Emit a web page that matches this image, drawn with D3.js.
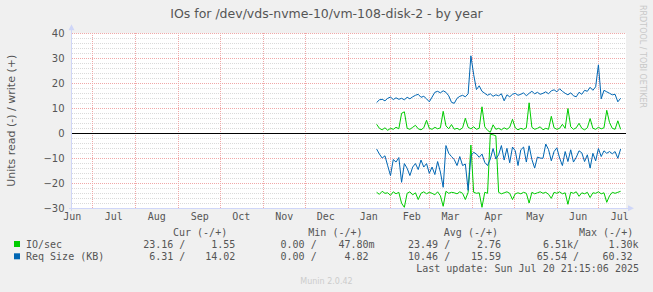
<!DOCTYPE html>
<html>
<head>
	<meta http-equiv="Content-Type" content="text/html; charset=utf-8">
	<title>IOs by year</title>
	<script src="https://d3js.org/d3.v7.min.js"></script>
	<style>
		body { margin: 0; background: #F0F0F0; }
		text { font-family: 'DejaVu Sans', sans-serif; fill: #555; }
		.mono { font-family: 'DejaVu Sans Mono', monospace; font-size: 10px; }
		.grid-minor { stroke: #dadada; stroke-dasharray: 1,1; shape-rendering: crispEdges; }
		.grid-major { stroke: #f0a8a8; stroke-dasharray: 1,1; shape-rendering: crispEdges; }
		.series { fill: none; stroke-width: 1; }
	</style>
</head>
<body>
<script>
// time span of the graph (munin "year" = last 400 days)
var graphStart = new Date(Date.UTC(2024, 5, 15, 21, 15));
var graphEnd = new Date(Date.UTC(2025, 6, 20, 21, 15));

// samples every 2 days starting here
var dataStart = new Date(Date.UTC(2025, 0, 22));
var stepDays = 2;

// IO/sec : read (-) and write (+)
var ioRead = [-23.6,-24.4,-23.2,-24.0,-23.8,-24.8,-23.4,-24.2,-23.6,-28.0,
	-29.6,-24.0,-23.4,-24.6,-23.8,-26.5,-24.0,-23.4,-24.2,-23.6,
	-24.0,-24.6,-23.4,-25.0,-29.2,-23.2,-24.0,-23.6,-23.8,-24.2,
	-23.4,-24.0,-26.5,-23.6,-4.7,-23.6,-24.0,-23.8,-29.6,-23.6,
	-24.0,-0.4,-0.6,-1.0,-23.6,-24.2,-23.8,-23.4,-24.0,-26.5,
	-24.2,-23.8,-24.2,-23.6,-24.0,-27.9,-23.6,-24.2,-23.8,-23.4,
	-24.0,-23.6,-24.4,-26.0,-23.6,-24.0,-23.4,-24.2,-23.8,-28.4,
	-23.6,-24.0,-23.4,-25.2,-23.8,-24.2,-23.6,-25.7,-23.8,-24.0,
	-23.4,-24.2,-23.8,-27.6,-25.0,-23.6,-24.0,-23.6,-23.2];
var ioWrite = [3.6,2.0,1.4,2.2,1.2,2.0,1.6,2.4,1.8,8.0,
	8.6,2.0,1.6,2.4,3.2,1.8,1.4,2.2,5.2,2.0,
	1.6,2.4,1.8,2.2,8.8,3.0,1.8,3.5,1.6,2.0,
	1.4,2.2,6.0,2.4,1.8,2.6,1.6,2.0,10.6,2.6,
	1.2,0.4,3.4,1.6,2.0,1.4,2.2,1.6,2.4,5.6,
	2.2,1.4,2.0,1.6,2.2,12.2,2.4,1.6,2.0,2.6,
	1.4,2.0,1.6,6.8,2.2,1.6,2.0,3.6,2.0,9.9,
	2.6,1.6,2.2,4.0,2.0,1.4,2.2,5.9,2.0,1.6,
	2.4,1.8,2.2,9.2,4.3,2.0,1.6,5.0,1.6];

// Req Size (KB) : read (-) and write (+)
var reqRead = [-6.3,-8.3,-9.9,-9.0,-13.0,-16.9,-10.5,-11.5,-9.7,-19.6,
	-12.1,-14.0,-16.9,-13.5,-12.1,-14.5,-10.7,-13.5,-12.1,-16.0,
	-13.5,-16.5,-11.3,-15.5,-21.6,-4.9,-8.0,-9.3,-10.5,-12.9,
	-9.3,-12.9,-12.3,-22.8,-9.0,-7.6,-8.3,-9.6,-8.3,-11.6,
	-12.9,-10.3,-6.1,-10.3,-8.6,-4.9,-10.7,-6.0,-11.8,-5.5,
	-7.0,-12.9,-6.6,-5.5,-11.5,-5.0,-10.5,-13.9,-9.5,-9.9,
	-10.0,-4.3,-6.5,-11.0,-7.3,-5.8,-9.9,-12.9,-7.3,-11.3,
	-6.6,-11.5,-9.6,-7.0,-7.8,-11.3,-8.6,-13.9,-8.0,-11.0,
	-6.1,-9.3,-7.0,-8.0,-7.3,-8.2,-7.3,-10.0,-6.3];
var reqWrite = [12.3,13.4,13.6,13.0,14.0,14.5,13.5,14.2,13.6,14.0,
	13.4,14.4,13.8,14.6,15.2,15.6,14.4,14.8,13.8,12.6,
	14.5,16.4,16.8,16.2,17.0,16.4,15.0,12.4,12.0,14.0,
	14.8,15.2,14.6,15.8,31.0,23.5,17.5,19.0,16.8,16.0,
	15.2,15.8,14.8,15.4,15.0,15.8,13.0,15.4,14.6,15.6,
	16.0,15.2,15.6,16.2,15.0,16.0,16.8,15.8,16.4,15.6,
	16.0,16.6,15.8,17.0,17.4,16.6,17.8,16.8,16.0,15.4,
	16.2,15.0,14.6,16.4,15.6,17.2,16.8,18.4,17.2,18.6,
	27.4,13.8,17.2,16.6,16.0,15.4,15.6,12.6,14.0];

var yTicks = [-30, -20, -10, 0, 10, 20, 30, 40];
var monthLabels = ["Jun","Jul","Aug","Sep","Oct","Nov","Dec","Jan","Feb","Mar","Apr","May","Jun","Jul"];

var legendHead = ["Cur (-/+)", "Min (-/+)", "Avg (-/+)", "Max (-/+)"];
var legendRows = [
	{name: "IO/sec", color: "#00CC00", vals: ["23.16 /", "1.55", "0.00 /", "47.80m", "23.49 /", "2.76", "6.51k/", "1.30k"]},
	{name: "Req Size (KB)", color: "#0066B3", vals: ["6.31 /", "14.02", "0.00 /", "4.82 ", "10.46 /", "15.59", "65.54 /", "60.32 "]}
];

var W = 653, H = 292;
var plot = {left: 71.5, right: 626, top: 33.3, bottom: 208.3};

var svg = d3.select("body").append("svg")
	.attr("width", W)
	.attr("height", H);

var x = d3.scaleUtc().domain([graphStart, graphEnd]).range([plot.left, plot.right]);
var y = d3.scaleLinear().domain([-30, 40]).range([plot.bottom, plot.top]);

// canvas
svg.append("rect")
	.attr("x", plot.left).attr("y", plot.top)
	.attr("width", plot.right - plot.left).attr("height", plot.bottom - plot.top)
	.attr("fill", "#fff");

// horizontal grid: minor every 2, major every 10
var minor = d3.range(-30, 41, 2).filter(function(v){ return v % 10 !== 0; });
svg.append("g").selectAll("line").data(minor).enter().append("line")
	.attr("class", "grid-minor")
	.attr("x1", plot.left).attr("x2", plot.right)
	.attr("y1", function(d){ return Math.round(y(d)) + 0.5; })
	.attr("y2", function(d){ return Math.round(y(d)) + 0.5; });
svg.append("g").selectAll("line").data(yTicks).enter().append("line")
	.attr("class", "grid-major")
	.attr("x1", plot.left).attr("x2", plot.right)
	.attr("y1", function(d){ return Math.round(y(d)) + 0.5; })
	.attr("y2", function(d){ return Math.round(y(d)) + 0.5; });

// vertical grid at month starts
var months = d3.utcMonth.range(d3.utcMonth.ceil(graphStart), graphEnd);
svg.append("g").selectAll("line").data(months).enter().append("line")
	.attr("class", "grid-major")
	.attr("x1", function(d){ return Math.round(x(d)) + 0.5; })
	.attr("x2", function(d){ return Math.round(x(d)) + 0.5; })
	.attr("y1", plot.top).attr("y2", plot.bottom);

// y tick labels
var yAxis = svg.append("g")
	.attr("transform", "translate(" + (plot.left - 1) + ",0)")
	.call(d3.axisLeft(y).tickValues(yTicks).tickSize(0).tickPadding(6));
yAxis.select(".domain").remove();
yAxis.selectAll("text").style("font-family", "'DejaVu Sans', sans-serif").style("font-size", "10px").attr("fill", "#555");

// x labels: centred half a month after each month start
var labelDates = d3.utcMonth.range(d3.utcMonth.floor(graphStart), graphEnd).map(function(d){ return d3.utcDay.offset(d, 15); });
var xAxis = svg.append("g")
	.attr("transform", "translate(0," + plot.bottom + ")")
	.call(d3.axisBottom(x).tickValues(labelDates).tickSize(0).tickPadding(5)
		.tickFormat(function(d, i){ return monthLabels[i]; }));
xAxis.select(".domain").remove();
xAxis.selectAll("text").attr("class", "mono").attr("fill", "#555").style("font-size", "10px")
	.style("font-family", "'DejaVu Sans Mono', monospace");

// data lines
function dateAt(i) { return d3.utcDay.offset(dataStart, i * stepDays); }
var line = d3.line()
	.x(function(d, i){ return x(dateAt(i)); })
	.y(function(d){ return y(d); });

[[ioRead, "#00CC00"], [ioWrite, "#00CC00"], [reqRead, "#0066B3"], [reqWrite, "#0066B3"]].forEach(function(s){
	svg.append("path")
		.attr("class", "series")
		.attr("d", line(s[0]))
		.attr("stroke", s[1]);
});

// zero line
svg.append("line")
	.attr("x1", plot.left).attr("x2", plot.right)
	.attr("y1", Math.round(y(0)) + 0.5).attr("y2", Math.round(y(0)) + 0.5)
	.attr("stroke", "#000").attr("shape-rendering", "crispEdges");

// axes with arrows
var axisCol = "#CFD6F8";
svg.append("line")
	.attr("x1", plot.left).attr("x2", plot.left)
	.attr("y1", plot.bottom + 3).attr("y2", plot.top - 4)
	.attr("stroke", axisCol).attr("shape-rendering", "crispEdges");
svg.append("path")
	.attr("d", "M" + (plot.left - 3) + "," + (plot.top - 3) + "L" + (plot.left + 3) + "," + (plot.top - 3) + "L" + plot.left + "," + (plot.top - 9) + "Z")
	.attr("fill", axisCol);
svg.append("line")
	.attr("x1", plot.left - 3).attr("x2", plot.right + 3)
	.attr("y1", plot.bottom).attr("y2", plot.bottom)
	.attr("stroke", axisCol).attr("shape-rendering", "crispEdges");
svg.append("path")
	.attr("d", "M" + (plot.right + 2) + "," + (plot.bottom - 3) + "L" + (plot.right + 2) + "," + (plot.bottom + 3) + "L" + (plot.right + 8) + "," + plot.bottom + "Z")
	.attr("fill", axisCol);

// title
svg.append("text")
	.attr("x", W / 2).attr("y", 17.5)
	.attr("text-anchor", "middle")
	.style("font-size", "12.5px")
	.text("IOs for /dev/vds-nvme-10/vm-108-disk-2 - by year");

// vertical label
svg.append("text")
	.attr("transform", "translate(15," + ((plot.top + plot.bottom) / 2) + ") rotate(-90)")
	.attr("text-anchor", "middle")
	.style("font-size", "11px")
	.text("Units read (-) / write (+)");

// rrdtool credit
svg.append("text")
	.attr("transform", "translate(640,5) rotate(90)")
	.attr("text-anchor", "start")
	.style("font-size", "8px")
	.style("fill", "#c8c8c8")
	.text("RRDTOOL / TOBI OETIKER");

// legend
var headX = [173, 308.3, 443.8, 579];
svg.append("g").selectAll("text").data(legendHead).enter().append("text")
	.attr("class", "mono")
	.attr("x", function(d, i){ return headX[i]; })
	.attr("y", 236)
	.text(function(d){ return d; });

var colEnd = [185.4, 235.4, 316.7, 374.5, 450.2, 501, 579, 638.5];
legendRows.forEach(function(r, j){
	var yy = 247.5 + j * 12.3;
	svg.append("rect")
		.attr("x", 14).attr("y", yy - 6.5)
		.attr("width", 6).attr("height", 6)
		.attr("fill", r.color);
	svg.append("text").attr("class", "mono")
		.attr("x", 26).attr("y", yy).text(r.name);
	svg.append("g").selectAll("text").data(r.vals).enter().append("text")
		.attr("class", "mono")
		.attr("xml:space", "preserve")
		.style("white-space", "pre")
		.attr("text-anchor", "end")
		.attr("x", function(d, i){ return colEnd[i]; })
		.attr("y", yy)
		.text(function(d){ return d; });
});

svg.append("text").attr("class", "mono")
	.attr("x", 639).attr("y", 272)
	.attr("text-anchor", "end")
	.text("Last update: Sun Jul 20 21:15:06 2025");

svg.append("text")
	.attr("x", W / 2).attr("y", 283.5)
	.attr("text-anchor", "middle")
	.style("font-size", "8px").style("fill", "#ccc")
	.text("Munin 2.0.42");
</script>
</body>
</html>
